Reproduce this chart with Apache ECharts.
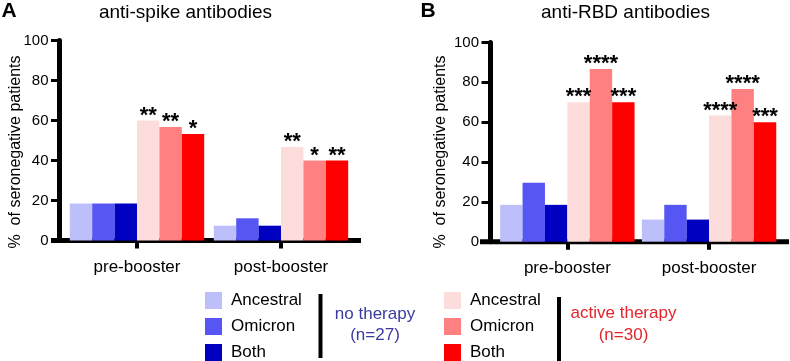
<!DOCTYPE html>
<html>
<head>
<meta charset="utf-8">
<script src="https://cdn.jsdelivr.net/npm/echarts@6/dist/echarts.min.js"></script>
<style>
  html, body { margin: 0; padding: 0; background: #fff; }
  #chart { width: 790px; height: 361px; }
</style>
</head>
<body>
<div id="chart"></div>
<script>
const categories = ['pre-booster', 'post-booster'];
const variants = ['Ancestral', 'Omicron', 'Both'];

// % seronegative, one row per variant: [pre-booster, post-booster]
const spikeNoTherapy = [[18.5, 7.4], [18.5, 11.1], [18.5, 7.4]];
const spikeActive = [[60, 46.7], [56.7, 40], [53.3, 40]];
const spikeActiveStars = [['**', '**'], ['**', '*'], ['*', '**']];

const rbdNoTherapy = [[18.5, 11.1], [29.6, 18.5], [18.5, 11.1]];
const rbdActive = [[70, 63.3], [86.7, 76.7], [70, 60]];
const rbdActiveStars = [['***', '****'], ['****', '****'], ['***', '***']];

const blues = ['#bdbffa', '#5656f5', '#0000c0'];
const reds = ['#fddcdc', '#ff8080', '#ff0000'];

const font = 'Liberation Sans, Arial, sans-serif';

const chart = echarts.init(document.getElementById('chart'), null, { renderer: 'canvas' });

function bar(name, data, color, idx, stars) {
  return {
    name: name,
    type: 'bar',
    xAxisIndex: idx,
    yAxisIndex: idx,
    barWidth: 22.4,
    barGap: '0%',
    itemStyle: { color: color },
    label: {
      show: !!stars,
      position: 'top',
      distance: -6,
      fontSize: 22,
      fontWeight: 'bold',
      fontFamily: font,
      color: '#000',
      formatter: function (p) { return stars ? stars[p.dataIndex] : ''; }
    },
    data: data
  };
}

const series = [];
[[spikeNoTherapy, spikeActive, spikeActiveStars, 0], [rbdNoTherapy, rbdActive, rbdActiveStars, 1]].forEach(function (s) {
  variants.forEach(function (v, i) {
    series.push(bar(v + ' (no therapy)', s[0][i], blues[i], s[3], null));
  });
  variants.forEach(function (v, i) {
    series.push(bar(v + ' (active therapy)', s[1][i], reds[i], s[3], s[2][i]));
  });
});

function xAx(idx) {
  return {
    type: 'category',
    gridIndex: idx,
    data: categories,
    axisLine: { show: false },
    axisTick: { show: true, alignWithLabel: true, length: 8, lineStyle: { width: 4, color: '#000' } },
    axisLabel: { fontSize: 17, margin: 18, color: '#000', fontFamily: font }
  };
}

function yAx(idx, offset) {
  return {
    type: 'value',
    gridIndex: idx,
    min: 0,
    max: 100,
    interval: 20,
    offset: offset,
    axisLine: { show: true, lineStyle: { width: 5, color: '#000' } },
    axisTick: { show: true, length: 8.5, lineStyle: { width: 3, color: '#000' } },
    axisLabel: { fontSize: 15, margin: 11, color: '#000', fontFamily: font },
    splitLine: { show: false }
  };
}

function legend(left, suffix) {
  return {
    orient: 'vertical',
    left: left,
    top: 292,
    padding: 0,
    icon: 'rect',
    itemWidth: 17,
    itemHeight: 17,
    itemGap: 9,
    selectedMode: false,
    data: variants.map(function (v) { return v + suffix; }),
    formatter: function (name) { return name.split(' (')[0]; },
    textStyle: { fontSize: 17, lineHeight: 17, color: '#000', fontFamily: font, padding: [0, 0, 0, 4] }
  };
}

function txt(text, x, y, size, opts) {
  return {
    type: 'text',
    x: x,
    y: y,
    rotation: (opts && opts.rotation) || 0,
    style: {
      text: text,
      fontSize: size,
      fontFamily: font,
      fontWeight: (opts && opts.weight) || 'normal',
      fill: (opts && opts.color) || '#000',
      align: 'center',
      verticalAlign: 'middle',
      lineHeight: (opts && opts.lineHeight) || size
    }
  };
}

function hline(x1, x2, y, w) {
  return { type: 'line', shape: { x1: x1, y1: y, x2: x2, y2: y }, style: { stroke: '#000', lineWidth: w } };
}
function vline(x, y1, y2, w) {
  return { type: 'line', shape: { x1: x, y1: y1, x2: x, y2: y2 }, style: { stroke: '#000', lineWidth: w } };
}

chart.setOption({
  backgroundColor: '#fff',
  animation: false,
  grid: [
    { left: 65, top: 40.5, width: 288, height: 200 },
    { left: 496.5, top: 42.5, width: 283.4, height: 199.2 }
  ],
  xAxis: [xAx(0), xAx(1)],
  yAxis: [yAx(0, 5.5), yAx(1, 6.5)],
  legend: [legend(205, ' (no therapy)'), legend(444, ' (active therapy)')],
  graphic: [
    hline(51, 361, 240.5, 5),
    hline(480, 789, 241.7, 5),
    txt('A', 9, 11, 21, { weight: 'bold' }),
    txt('B', 428, 11, 21, { weight: 'bold' }),
    txt('anti-spike antibodies', 185.5, 13, 19),
    txt('anti-RBD antibodies', 625.5, 13, 19),
    txt('%  of seronegative patients', 16, 152, 16, { rotation: Math.PI / 2 }),
    txt('%  of seronegative patients', 441, 152, 16, { rotation: Math.PI / 2 }),
    vline(320.5, 294, 358, 4),
    vline(559, 297, 361, 4),
    txt('no therapy\n(n=27)', 375, 325, 17, { color: '#3a3aa0', lineHeight: 21 }),
    txt('active therapy\n(n=30)', 623.5, 324, 17, { color: '#e3242b', lineHeight: 22 })
  ],
  series: series
});
</script>
</body>
</html>
